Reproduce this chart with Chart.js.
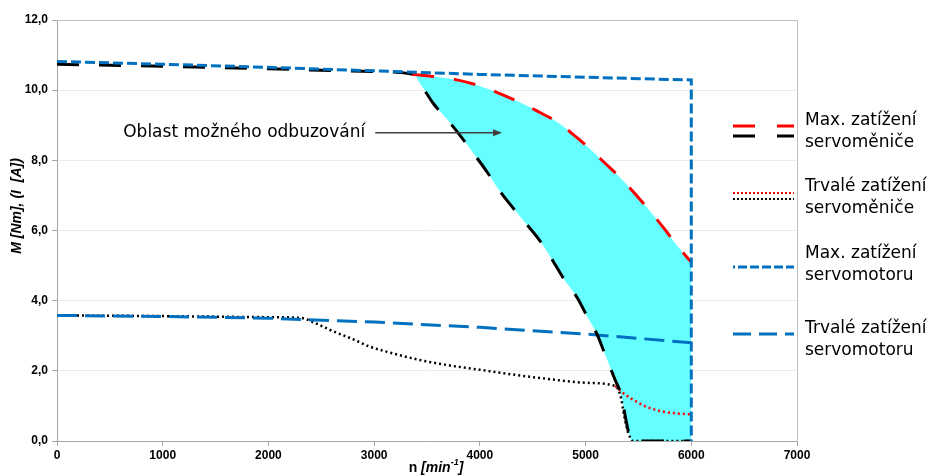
<!DOCTYPE html>
<html>
<head>
<meta charset="utf-8">
<script src="https://cdn.jsdelivr.net/npm/chart.js@4.4.1/dist/chart.umd.min.js"></script>
<style>
  body { margin: 0; background: #fff; }
  canvas { display: block; }
</style>
</head>
<body>
<canvas id="chart" width="930" height="476"></canvas>
<script>
// Max. zatížení servoměniče – černá část (n, M)
const nMaxInvBlack = [0, 1000, 2000, 3000, 3370, 3450, 3560, 3690, 3810, 3940, 4070, 4190, 4380, 4570, 4690, 4790, 4920, 5010, 5110, 5180, 5280, 5330, 5420, 5450, 6000];
const mMaxInvBlack = [10.74, 10.68, 10.61, 10.53, 10.45, 10.12, 9.62, 9.17, 8.72, 8.2, 7.66, 7.12, 6.4, 5.7, 5.14, 4.64, 4.09, 3.58, 3.03, 2.5, 1.74, 1.37, 0.11, 0, 0];

// Max. zatížení servoměniče – červená část
const nMaxInvRed = [3360, 3560, 3770, 3970, 4160, 4350, 4540, 4730, 4870, 5040, 5180, 5330, 5470, 5610, 5750, 5870, 6000];
const mMaxInvRed = [10.45, 10.39, 10.3, 10.15, 9.94, 9.69, 9.41, 9.09, 8.77, 8.33, 7.93, 7.5, 7.04, 6.55, 6.03, 5.55, 5.1];

// Trvalé zatížení servoměniče – černá a červená část
const nContInvBlack = [0, 1000, 2000, 2300, 2450, 2580, 2800, 2960, 3200, 3430, 3700, 4000, 4300, 4640, 5000, 5280, 5310, 5340, 5360, 5390, 5420, 5450, 6000];
const mContInvBlack = [3.58, 3.56, 3.53, 3.51, 3.35, 3.17, 2.9, 2.69, 2.48, 2.31, 2.16, 2.03, 1.9, 1.77, 1.66, 1.57, 1.46, 1.17, 0.8, 0.37, 0.11, 0, 0];
const nContInvRed = [5280, 5350, 5420, 5500, 5580, 5730, 5850, 6000];
const mContInvRed = [1.57, 1.38, 1.23, 1.09, 0.97, 0.84, 0.79, 0.76];

// Max. zatížení servomotoru
const nMaxMotor = [0, 1000, 2000, 3000, 4000, 5000, 6000, 6000];
const mMaxMotor = [10.82, 10.74, 10.65, 10.55, 10.45, 10.37, 10.29, 0];

// Trvalé zatížení servomotoru
const nContMotor = [0, 1000, 2000, 3000, 4000, 5000, 6000];
const mContMotor = [3.58, 3.55, 3.5, 3.39, 3.24, 3.05, 2.8];

const xTicks = [0, 1000, 2000, 3000, 4000, 5000, 6000, 7000];
const yTicks = [0, 2, 4, 6, 8, 10, 12];

const legendItems = [
  { lines: ['Max. zatížení', 'servoměniče'] },
  { lines: ['Trvalé zatížení', 'servoměniče'] },
  { lines: ['Max. zatížení', 'servomotoru'] },
  { lines: ['Trvalé zatížení', 'servomotoru'] }
];

const annoText = 'Oblast možného odbuzování';
const annoFrom = 3010;
const annoTo = 4210;
const annoM = 8.8;

const BLUE = '#0070c0';
const CYAN = '#66ffff';

const toPoints = (xs, ys) => xs.map((x, i) => ({ x, y: ys[i] }));

const line = (data, color, dash, width, smooth) => ({
  data,
  showLine: true,
  borderColor: color,
  borderWidth: width,
  borderDash: dash,
  borderCapStyle: 'butt',
  pointRadius: 0,
  pointHoverRadius: 0,
  tension: smooth ? 0.4 : 0,
  cubicInterpolationMode: smooth ? 'monotone' : 'default',
  fill: false
});

const decorPlugin = {
  id: 'decor',
  afterDraw(chart) {
    const { ctx, chartArea: a, scales } = chart;
    const xs = scales.x, ys = scales.y;
    ctx.save();

    // rámeček nahoře a vpravo
    ctx.strokeStyle = '#bfbfbf';
    ctx.lineWidth = 1;
    ctx.beginPath();
    ctx.moveTo(a.left, a.top + 0.5);
    ctx.lineTo(a.right + 0.5, a.top + 0.5);
    ctx.lineTo(a.right + 0.5, a.bottom);
    ctx.stroke();

    // popis oblasti + šipka
    const ay = ys.getPixelForValue(annoM);
    ctx.font = '17px "DejaVu Sans"';
    ctx.fillStyle = '#000';
    ctx.textBaseline = 'middle';
    ctx.textAlign = 'right';
    const x1 = xs.getPixelForValue(annoFrom);
    const x2 = xs.getPixelForValue(annoTo);
    ctx.fillText(annoText, x1 - 10, ay);
    ctx.strokeStyle = '#404040';
    ctx.fillStyle = '#404040';
    ctx.lineWidth = 1.3;
    ctx.beginPath();
    ctx.moveTo(x1, ay + 0.5);
    ctx.lineTo(x2 - 7, ay + 0.5);
    ctx.stroke();
    ctx.beginPath();
    ctx.moveTo(x2, ay + 0.5);
    ctx.lineTo(x2 - 9, ay - 3);
    ctx.lineTo(x2 - 9, ay + 4);
    ctx.closePath();
    ctx.fill();

    // osa Y – titulek
    ctx.fillStyle = '#000';
    ctx.font = 'italic bold 14px "Liberation Sans"';
    ctx.textAlign = 'center';
    ctx.save();
    ctx.translate(17, 206);
    ctx.rotate(-Math.PI / 2);
    ctx.fillText('M [Nm], (I  [A])', 0, 0);
    ctx.restore();

    // osa X – titulek s horním indexem
    const parts = [
      { t: 'n ', f: 'bold 14px "Liberation Sans"', dy: 0 },
      { t: '[min', f: 'italic bold 14px "Liberation Sans"', dy: 0 },
      { t: '-1', f: 'italic bold 9px "Liberation Sans"', dy: -5 },
      { t: ']', f: 'italic bold 14px "Liberation Sans"', dy: 0 }
    ];
    let total = 0;
    parts.forEach(p => { ctx.font = p.f; p.w = ctx.measureText(p.t).width; total += p.w; });
    let tx = (a.left + a.right) / 2 + 9 - total / 2;
    ctx.textAlign = 'left';
    parts.forEach(p => {
      ctx.font = p.f;
      ctx.fillText(p.t, tx, 468 + p.dy);
      tx += p.w;
    });

    // legenda
    const lx1 = a.right - 64, lx2 = a.right - 3, tx0 = a.right + 8;
    const rows = [121, 187, 254, 329];
    const seg = (y, color, dash, width, offset) => {
      ctx.strokeStyle = color;
      ctx.lineWidth = width;
      ctx.setLineDash(dash);
      ctx.lineDashOffset = offset || 0;
      ctx.beginPath();
      ctx.moveTo(lx1, y);
      ctx.lineTo(lx2, y);
      ctx.stroke();
    };
    seg(126, '#ff0000', [22, 22], 3);
    seg(136, '#000', [22, 22], 3);
    seg(193, '#ff0000', [2, 2], 2);
    seg(199, '#000', [2, 2], 2);
    seg(267, BLUE, [9, 3], 3, 7);
    seg(334, BLUE, [18, 8], 3);
    ctx.setLineDash([]);
    ctx.fillStyle = '#000';
    ctx.font = '17px "DejaVu Sans"';
    ctx.textAlign = 'left';
    legendItems.forEach((it, i) => {
      it.lines.forEach((s, j) => ctx.fillText(s, tx0, rows[i] + j * 22));
    });

    ctx.restore();
  }
};

const redMax = line(toPoints(nMaxInvRed, mMaxInvRed), '#ff0000', [22, 20], 3, true);
// oblast odbuzování mezi červenou a černou křivkou
redMax.fill = { target: 2 };
redMax.backgroundColor = CYAN;

new Chart(document.getElementById('chart'), {
  type: 'scatter',
  data: {
    datasets: [
      line(toPoints(nMaxMotor, mMaxMotor), BLUE, [10, 4], 3),
      redMax,
      line(toPoints(nMaxInvBlack, mMaxInvBlack), '#000', [22, 20], 3, true),
      line(toPoints(nContMotor, mContMotor), BLUE, [20, 8], 3),
      line(toPoints(nContInvRed, mContInvRed), '#ff0000', [2, 3], 2.5, true),
      line(toPoints(nContInvBlack, mContInvBlack), '#000', [2, 3], 2.5, true)
    ]
  },
  options: {
    responsive: false,
    animation: false,
    events: [],
    layout: { padding: { top: 20, right: 133, left: 0, bottom: 0 } },
    plugins: {
      legend: { display: false },
      tooltip: { enabled: false },
      filler: { propagate: false, drawTime: 'beforeDatasetsDraw' }
    },
    scales: {
      x: {
        type: 'linear',
        min: xTicks[0],
        max: xTicks[xTicks.length - 1],
        afterFit: s => { s.height = 35; },
        afterBuildTicks: s => { s.ticks = xTicks.map(v => ({ value: v })); },
        grid: { drawOnChartArea: false, drawTicks: true, tickLength: 5, tickColor: '#a6a6a6' },
        border: { color: '#a6a6a6' },
        ticks: {
          padding: 2,
          color: '#000',
          font: { family: '"Liberation Sans"', size: 12, weight: 'bold' },
          maxRotation: 0,
          callback: v => String(v)
        }
      },
      y: {
        min: yTicks[0],
        max: yTicks[yTicks.length - 1],
        afterFit: s => { s.width = 57; },
        afterBuildTicks: s => { s.ticks = yTicks.map(v => ({ value: v })); },
        grid: { color: '#ececec', tickColor: '#a6a6a6', tickLength: 5 },
        border: { color: '#a6a6a6' },
        ticks: {
          padding: 4,
          color: '#000',
          font: { family: '"Liberation Sans"', size: 12, weight: 'bold' },
          callback: v => v.toFixed(1).replace('.', ',')
        }
      }
    }
  },
  plugins: [decorPlugin]
});
</script>
</body>
</html>
